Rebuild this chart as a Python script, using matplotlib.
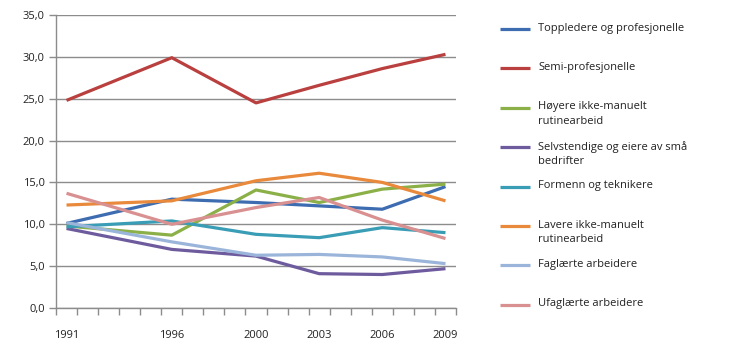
import matplotlib
matplotlib.use("Agg")
import matplotlib.pyplot as plt
from matplotlib.lines import Line2D

plt.rcParams["font.family"] = ["Open Sans", "DejaVu Sans"]

years = [1991, 1996, 2000, 2003, 2006, 2009]

labels = [
    "Toppledere og profesjonelle",
    "Semi-profesjonelle",
    "Høyere ikke-manuelt\nrutinearbeid",
    "Selvstendige og eiere av små\nbedrifter",
    "Formenn og teknikere",
    "Lavere ikke-manuelt\nrutinearbeid",
    "Faglærte arbeidere",
    "Ufaglærte arbeidere",
]

toppledere   = [10.1, 13.0, 12.6, 12.2, 11.8, 14.5]
semi         = [24.8, 29.9, 24.5, 26.6, 28.6, 30.3]
hoyere       = [9.8, 8.7, 14.1, 12.6, 14.2, 14.8]
selvstendige = [9.5, 7.0, 6.2, 4.1, 4.0, 4.7]
formenn      = [9.7, 10.4, 8.8, 8.4, 9.6, 9.0]
lavere       = [12.3, 12.8, 15.2, 16.1, 15.0, 12.8]
faglaerte    = [10.2, 7.9, 6.3, 6.4, 6.1, 5.3]
ufaglaerte   = [13.7, 10.0, 12.0, 13.2, 10.5, 8.3]

series = [toppledere, semi, hoyere, selvstendige, formenn, lavere, faglaerte, ufaglaerte]
colors = ["#3D6CB0", "#B9403F", "#8BB048", "#6E5B9E", "#3A9DB6", "#E8893B", "#9BB5DA", "#D99090"]

GRID = "#8C8C8C"

fig = plt.figure(figsize=(7.30, 3.46), dpi=100)
ax = fig.add_axes([56 / 730, 1 - 308 / 346, 400 / 730, 293 / 346])

for ys, col in zip(series, colors):
    ax.plot(years, ys, color=col, lw=2.3, solid_capstyle="butt", zorder=3)

ax.set_xlim(1990.5, 2009.5)
ax.set_ylim(0, 35)
ax.set_yticks([0, 5, 10, 15, 20, 25, 30, 35])
ax.set_yticklabels([f"{v:.1f}".replace(".", ",") for v in ax.get_yticks()])
ax.yaxis.grid(True, color=GRID, lw=1.0)
ax.set_axisbelow(True)

# boundary ticks between years, labels only on survey years
ax.set_xticks([y + 0.5 for y in range(1990, 2010)])
ax.set_xticklabels([])
ax.set_xticks(years, minor=True)
ax.set_xticklabels([str(y) for y in years], minor=True)
ax.tick_params(axis="x", which="major", length=5, width=1, color=GRID, direction="out")
ax.tick_params(axis="x", which="minor", length=0, pad=16, labelsize=8, labelcolor="#222222")
ax.tick_params(axis="y", length=5, width=1, color=GRID, labelsize=8, labelcolor="#222222", pad=3)

for side in ("top", "right"):
    ax.spines[side].set_visible(False)
for side in ("left", "bottom"):
    ax.spines[side].set_color(GRID)
    ax.spines[side].set_linewidth(1.0)

# legend column on the right
lx0, lx1, tx = 500 / 730, 530 / 730, 538 / 730
y0, step = 29, 39.4
for i, (lab, col) in enumerate(zip(labels, colors)):
    py = 1 - (y0 + i * step) / 346
    fig.add_artist(Line2D([lx0, lx1], [py, py], transform=fig.transFigure,
                          color=col, lw=2.3, solid_capstyle="butt"))
    fig.text(tx, py + 6.5 / 346, lab, fontsize=8, color="#222222",
             ha="left", va="top", linespacing=1.45)

fig.savefig("out.png", dpi=100)
